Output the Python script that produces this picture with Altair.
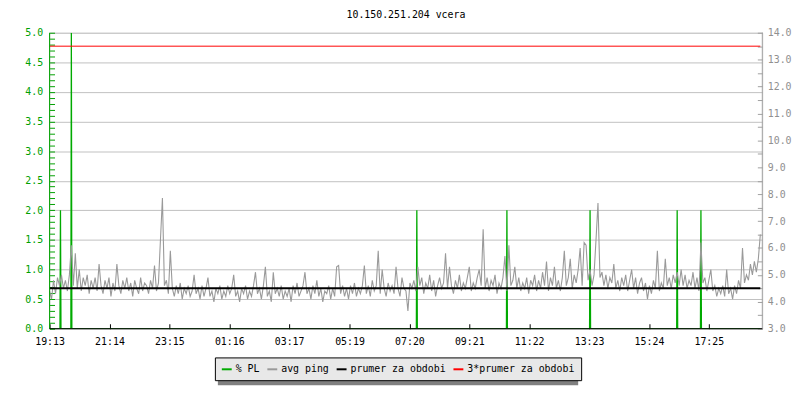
import altair as alt
import pandas as pd

chart_title = "10.150.251.204 vcera"
series_names = ["% PL", "avg ping", "prumer za obdobi", "3*prumer za obdobi"]
series_colors = ["#00aa00", "#9a9a9a", "#000000", "#ff0000"]

x_tick_minutes = [0, 121, 242, 363, 484, 606, 727, 848, 969, 1090, 1211, 1332]
x_tick_labels = ["19:13", "21:14", "23:15", "01:16", "03:17", "05:19",
                 "07:20", "09:21", "11:22", "13:23", "15:24", "17:25"]

# avg ping (ms, right axis), one sample every 4 minutes from 19:13
ping_step_min = 4
ping_ms = [
    4.4, 4.1, 4.8, 4.3, 4.9, 4.6, 5.0, 4.5, 4.8, 4.4, 5.0, 6.1, 4.6, 5.8, 4.5, 5.2, 4.4, 4.9, 4.6, 5.0,
    4.3, 4.8, 4.5, 4.9, 4.4, 5.4, 4.6, 4.3, 4.8, 4.5, 4.9, 4.2, 4.7, 4.4, 5.4, 4.6, 4.3, 4.8, 4.5, 4.9,
    4.4, 4.7, 4.2, 4.8, 4.5, 4.3, 4.9, 4.4, 4.7, 4.6, 4.3, 4.8, 4.5, 5.35, 4.4, 4.7, 6.3, 7.86, 4.6, 4.8,
    4.3, 5.9, 4.5, 4.2, 4.6, 4.3, 4.7, 4.1, 4.5, 4.3, 4.6, 4.2, 4.4, 5.0, 4.3, 4.5, 4.1, 4.6, 4.2, 4.5,
    4.9, 4.2, 4.4, 4.0, 4.5, 4.3, 4.6, 4.1, 4.4, 4.2, 4.6, 4.3, 4.5, 5.0, 4.2, 4.4, 4.0, 4.5, 4.3, 4.6,
    4.1, 4.4, 4.2, 4.6, 5.1, 4.3, 4.5, 4.1, 4.6, 5.3, 4.2, 4.4, 4.0, 5.1, 4.3, 4.5, 4.2, 4.6, 4.1, 4.4,
    4.2, 4.5, 4.0, 4.6, 4.3, 4.7, 4.2, 4.4, 4.6, 5.1, 4.3, 4.5, 4.1, 4.6, 4.3, 4.8, 4.2, 4.5, 4.0, 4.4,
    4.3, 4.6, 4.1, 4.5, 4.2, 5.3, 5.35, 4.3, 4.6, 4.2, 4.5, 4.1, 4.6, 4.3, 4.7, 4.2, 4.5, 4.3, 4.6, 5.35,
    4.3, 4.6, 4.2, 4.8, 4.4, 4.6, 5.9, 4.3, 5.2, 4.5, 4.2, 4.7, 4.4, 4.6, 4.3, 5.3, 4.5, 4.2, 4.9, 4.5,
    4.4, 3.66, 4.7, 4.5, 4.8, 4.4, 5.3, 4.6, 4.9, 4.3, 4.7, 4.5, 5.0, 4.4, 4.8, 4.2, 4.6, 4.9, 4.5, 4.7,
    5.8, 4.5, 5.3, 4.6, 4.3, 4.8, 4.5, 5.0, 4.4, 4.7, 4.5, 4.9, 5.3, 4.4, 4.7, 4.5, 4.9, 5.2, 4.6, 6.7,
    4.5, 4.9, 4.4, 4.8, 4.6, 5.0, 4.3, 4.7, 4.5, 4.9, 5.7, 4.4, 6.1, 4.6, 4.8, 5.3, 4.5, 4.9, 4.4, 4.7,
    4.5, 4.9, 4.3, 4.8, 4.6, 5.0, 4.4, 4.8, 4.5, 5.1, 4.6, 5.5, 4.4, 4.9, 4.6, 5.3, 4.5, 4.8, 4.4, 4.9,
    5.9, 4.6, 4.9, 5.6, 4.5, 5.0, 4.7, 5.2, 6.0, 4.6, 6.2, 6.1, 4.8, 5.2, 4.6, 5.0, 6.3, 7.67, 4.9, 5.1,
    4.6, 5.0, 4.5, 4.9, 4.7, 5.4, 4.5, 4.8, 4.4, 4.9, 4.6, 5.0, 4.4, 4.8, 5.2, 4.5, 4.9, 4.3, 4.7, 4.9,
    4.4, 4.7, 4.1, 4.6, 4.3, 4.8, 4.5, 5.9, 4.4, 4.7, 4.5, 5.6, 4.6, 4.9, 4.5, 5.0, 4.7, 5.1, 4.6, 5.2,
    4.6, 5.0, 4.5, 4.8, 4.6, 5.1, 4.5, 4.9, 4.4, 6.2, 4.7, 4.9, 4.4, 4.8, 5.2, 4.4, 4.6, 4.2, 4.5, 4.3,
    4.6, 4.2, 5.2, 4.3, 4.5, 4.1, 4.6, 4.3, 4.8, 4.5, 6.0, 4.7, 5.0, 4.8, 5.4, 5.0, 5.5, 5.1, 5.6, 6.5,
]

# packet loss (%, left axis)
pl_minutes = [0, 21, 22, 23, 43, 44, 45, 741, 742, 743, 923, 924, 925,
              1091, 1092, 1093, 1267, 1268, 1269, 1315, 1316, 1317, 1436]
pl_values = [0, 0, 2.0, 0, 0, 5.0, 0, 0, 2.0, 0, 0, 2.0, 0,
             0, 2.0, 0, 0, 2.0, 0, 0, 2.0, 0, 0]

avg_ms = 4.5
avg3_ms = 13.5
line_span_min = [0, 1436]

pl_axis_ticks = [round(i * 0.1, 1) for i in range(51)]
ms_axis_ticks = [3.0 + i * 0.5 for i in range(23)]

FONT = "DejaVu Sans Mono"
GREEN = "#00a000"
GRAY = "#a0a0a0"
W, H = 720, 299

ping_df = pd.DataFrame({
    "minute": [i * ping_step_min for i in range(len(ping_ms))],
    "val": ping_ms,
    "series": series_names[1],
})
pl_df = pd.DataFrame({"minute": pl_minutes, "val": pl_values, "series": series_names[0]})
avg_df = pd.DataFrame({"minute": line_span_min, "val": [avg_ms, avg_ms], "series": series_names[2]})
avg3_df = pd.DataFrame({"minute": line_span_min, "val": [avg3_ms, avg3_ms], "series": series_names[3]})
dummy = pd.DataFrame({"k": [0]})

label_expr = "[" + ",".join("'%s'" % s for s in x_tick_labels) + "][indexof([" + \
    ",".join(str(v) for v in x_tick_minutes) + "], datum.value)]"

x_enc = alt.X(
    "minute:Q",
    scale=alt.Scale(domain=[0, 1440], nice=False, zero=False),
    axis=alt.Axis(values=x_tick_minutes, labelExpr=label_expr, offset=-5, tickSize=5,
                  domain=False, grid=False, labelPadding=8, labelColor="black",
                  tickColor="black", labelFont=FONT, labelFontSize=10, labelFlush=False,
                  labelOverlap=False),
    title=None,
)

color_enc = alt.Color(
    "series:N",
    scale=alt.Scale(domain=series_names, range=series_colors),
    legend=alt.Legend(title=None, orient="none", legendX=167, legendY=328,
                      direction="horizontal", columns=4, symbolType="stroke",
                      symbolSize=100, symbolStrokeWidth=2, labelFont=FONT,
                      labelFontSize=10, labelColor="black", fillColor="#e8e8e8",
                      strokeColor="black", padding=6, columnPadding=3, labelOffset=3,
                      cornerRadius=0),
)

pl_half = "abs(datum.value*2 - round(datum.value*2)) < 0.001"
pl_layer = alt.Chart(pl_df).mark_line(strokeWidth=1.3, clip=True).encode(
    x=x_enc,
    y=alt.Y("val:Q", scale=alt.Scale(domain=[0, 5], nice=False, zero=True),
            axis=alt.Axis(orient="left", values=pl_axis_ticks,
                          labelExpr="(" + pl_half + ") ? format(datum.value, '.1f') : ''",
                          offset=-5, tickSize=5, domain=False, labelPadding=7,
                          labelColor=GREEN, tickColor=GREEN, labelFont=FONT, labelFontSize=10,
                          labelOverlap=False, labelFlush=False, grid=True, gridColor="#c0c0c0",
                          gridOpacity={"condition": {"test": pl_half, "value": 1}, "value": 0}),
            title=None),
    color=color_enc,
)

ms_int = "abs(datum.value - round(datum.value)) < 0.001"
y_ms = alt.Y("val:Q", scale=alt.Scale(domain=[3, 14], nice=False, zero=False),
             axis=alt.Axis(orient="right", values=ms_axis_ticks,
                           labelExpr="(" + ms_int + ") ? format(datum.value, '.1f') : ''",
                           offset=-5, tickSize=5, domain=False, labelPadding=5,
                           labelColor="#909090", tickColor=GRAY, labelFont=FONT, labelFontSize=10,
                           labelOverlap=False, labelFlush=False, grid=False),
             title=None)

ping_layer = alt.Chart(ping_df).mark_line(strokeWidth=1.1).encode(
    x=x_enc, y=y_ms, color=color_enc)
avg_layer = alt.Chart(avg_df).mark_line(strokeWidth=2).encode(x=x_enc, y=y_ms, color=color_enc)
avg3_layer = alt.Chart(avg3_df).mark_line(strokeWidth=1).encode(x=x_enc, y=y_ms, color=color_enc)

left_line = alt.Chart(dummy).mark_rule(color=GREEN, strokeWidth=1).encode(
    x=alt.value(0), y=alt.value(0), y2=alt.value(H))
right_line = alt.Chart(dummy).mark_rule(color=GRAY, strokeWidth=1).encode(
    x=alt.value(W), y=alt.value(0), y2=alt.value(H))
bottom_line = alt.Chart(dummy).mark_rule(color="black", strokeWidth=1).encode(
    x=alt.value(0), x2=alt.value(W), y=alt.value(H))
shadow = alt.Chart(dummy).mark_rect(color="#808080").encode(
    x=alt.value(170), x2=alt.value(534), y=alt.value(331), y2=alt.value(356))

inner = alt.layer(shadow, ping_layer, avg_layer, avg3_layer, left_line, right_line, bottom_line)

chart = alt.layer(pl_layer, inner).resolve_scale(y="independent").properties(
    width=W, height=H,
    title=alt.Title(text=chart_title, font=FONT, fontSize=10, fontWeight="normal",
                    color="black", anchor="middle", frame="group", offset=8),
    padding={"left": 42, "top": 23, "right": 30, "bottom": 66},
    autosize=alt.AutoSizeParams(type="none"),
).configure_view(stroke=None).configure(font=FONT, background="white")

chart.save("out.html", embed_options={"renderer": "svg", "actions": False})
